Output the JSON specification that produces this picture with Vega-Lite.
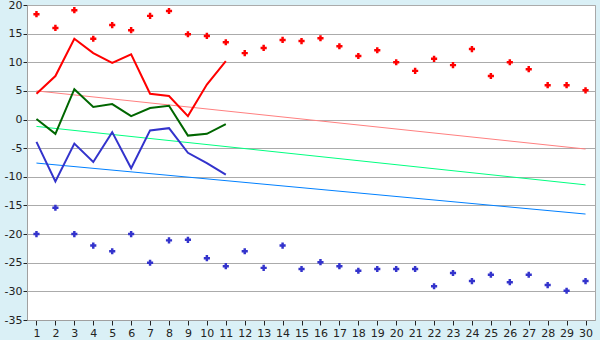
{
  "$schema": "https://vega.github.io/schema/vega-lite/v6.json",
  "width": 568,
  "height": 315,
  "autosize": {"type": "none"},
  "padding": {"left": 27, "top": 5, "right": 5, "bottom": 20},
  "background": "#DAF0F6",
  "config": {
    "view": {"fill": "white", "stroke": "#A8A8A8", "strokeWidth": 1},
    "axis": {
      "labelFont": "DejaVu Sans",
      "labelFontSize": 11,
      "labelColor": "#222222",
      "domainColor": "#A0A0A0",
      "tickColor": "#222222",
      "labelPadding": 2
    }
  },
  "datasets": {
    "points": [
      {"day": 1, "series": "max", "value": 18.4},
      {"day": 2, "series": "max", "value": 16.0},
      {"day": 3, "series": "max", "value": 19.1},
      {"day": 4, "series": "max", "value": 14.1},
      {"day": 5, "series": "max", "value": 16.5},
      {"day": 6, "series": "max", "value": 15.6},
      {"day": 7, "series": "max", "value": 18.1},
      {"day": 8, "series": "max", "value": 18.95},
      {"day": 9, "series": "max", "value": 14.9},
      {"day": 10, "series": "max", "value": 14.6},
      {"day": 11, "series": "max", "value": 13.5},
      {"day": 12, "series": "max", "value": 11.6},
      {"day": 13, "series": "max", "value": 12.5},
      {"day": 14, "series": "max", "value": 13.9},
      {"day": 15, "series": "max", "value": 13.7},
      {"day": 16, "series": "max", "value": 14.2},
      {"day": 17, "series": "max", "value": 12.8},
      {"day": 18, "series": "max", "value": 11.1},
      {"day": 19, "series": "max", "value": 12.1},
      {"day": 20, "series": "max", "value": 10.0},
      {"day": 21, "series": "max", "value": 8.5},
      {"day": 22, "series": "max", "value": 10.6},
      {"day": 23, "series": "max", "value": 9.5},
      {"day": 24, "series": "max", "value": 12.3},
      {"day": 25, "series": "max", "value": 7.6},
      {"day": 26, "series": "max", "value": 10.0},
      {"day": 27, "series": "max", "value": 8.8},
      {"day": 28, "series": "max", "value": 6.0},
      {"day": 29, "series": "max", "value": 6.0},
      {"day": 30, "series": "max", "value": 5.1},
      {"day": 1, "series": "min", "value": -20.0},
      {"day": 2, "series": "min", "value": -15.4},
      {"day": 3, "series": "min", "value": -20.0},
      {"day": 4, "series": "min", "value": -22.0},
      {"day": 5, "series": "min", "value": -23.0},
      {"day": 6, "series": "min", "value": -20.0},
      {"day": 7, "series": "min", "value": -25.0},
      {"day": 8, "series": "min", "value": -21.1},
      {"day": 9, "series": "min", "value": -21.0},
      {"day": 10, "series": "min", "value": -24.2},
      {"day": 11, "series": "min", "value": -25.6},
      {"day": 12, "series": "min", "value": -23.0},
      {"day": 13, "series": "min", "value": -25.9},
      {"day": 14, "series": "min", "value": -22.0},
      {"day": 15, "series": "min", "value": -26.1},
      {"day": 16, "series": "min", "value": -24.9},
      {"day": 17, "series": "min", "value": -25.6},
      {"day": 18, "series": "min", "value": -26.4},
      {"day": 19, "series": "min", "value": -26.1},
      {"day": 20, "series": "min", "value": -26.1},
      {"day": 21, "series": "min", "value": -26.1},
      {"day": 22, "series": "min", "value": -29.1},
      {"day": 23, "series": "min", "value": -26.8},
      {"day": 24, "series": "min", "value": -28.2},
      {"day": 25, "series": "min", "value": -27.1},
      {"day": 26, "series": "min", "value": -28.4},
      {"day": 27, "series": "min", "value": -27.1},
      {"day": 28, "series": "min", "value": -28.9},
      {"day": 29, "series": "min", "value": -29.9},
      {"day": 30, "series": "min", "value": -28.2}
    ],
    "lines": [
      {"day": 1, "series": "high", "value": 4.5},
      {"day": 2, "series": "high", "value": 7.6},
      {"day": 3, "series": "high", "value": 14.1},
      {"day": 4, "series": "high", "value": 11.6},
      {"day": 5, "series": "high", "value": 9.9},
      {"day": 6, "series": "high", "value": 11.4},
      {"day": 7, "series": "high", "value": 4.5},
      {"day": 8, "series": "high", "value": 4.1},
      {"day": 9, "series": "high", "value": 0.6},
      {"day": 10, "series": "high", "value": 6.1},
      {"day": 11, "series": "high", "value": 10.2},
      {"day": 1, "series": "mean", "value": 0.1},
      {"day": 2, "series": "mean", "value": -2.5},
      {"day": 3, "series": "mean", "value": 5.3},
      {"day": 4, "series": "mean", "value": 2.2},
      {"day": 5, "series": "mean", "value": 2.7},
      {"day": 6, "series": "mean", "value": 0.6},
      {"day": 7, "series": "mean", "value": 2.0},
      {"day": 8, "series": "mean", "value": 2.4},
      {"day": 9, "series": "mean", "value": -2.8},
      {"day": 10, "series": "mean", "value": -2.5},
      {"day": 11, "series": "mean", "value": -0.8},
      {"day": 1, "series": "low", "value": -3.9},
      {"day": 2, "series": "low", "value": -10.8},
      {"day": 3, "series": "low", "value": -4.2},
      {"day": 4, "series": "low", "value": -7.4},
      {"day": 5, "series": "low", "value": -2.2},
      {"day": 6, "series": "low", "value": -8.5},
      {"day": 7, "series": "low", "value": -1.9},
      {"day": 8, "series": "low", "value": -1.5},
      {"day": 9, "series": "low", "value": -5.8},
      {"day": 10, "series": "low", "value": -7.6},
      {"day": 11, "series": "low", "value": -9.6}
    ],
    "trends": [
      {"day": 1, "series": "high trend", "value": 5.0},
      {"day": 30, "series": "high trend", "value": -5.15},
      {"day": 1, "series": "mean trend", "value": -1.2},
      {"day": 30, "series": "mean trend", "value": -11.4},
      {"day": 1, "series": "low trend", "value": -7.6},
      {"day": 30, "series": "low trend", "value": -16.5}
    ]
  },
  "encoding": {
    "x": {
      "field": "day",
      "type": "quantitative",
      "scale": {"domain": [0.5, 30.5], "nice": false, "zero": false},
      "axis": {
        "title": null,
        "values": [1,2,3,4,5,6,7,8,9,10,11,12,13,14,15,16,17,18,19,20,21,22,23,24,25,26,27,28,29,30],
        "grid": false,
        "tickSize": 5,
        "labelFlush": false,
        "labelOverlap": false
      }
    },
    "y": {
      "field": "value",
      "type": "quantitative",
      "scale": {"domain": [-35, 20], "nice": false, "zero": false},
      "axis": {
        "title": null,
        "values": [-35,-30,-25,-20,-15,-10,-5,0,5,10,15,20],
        "labelExpr": "toString(datum.value)",
        "grid": true,
        "gridColor": "#ABABAB",
        "tickSize": 4,
        "labelPadding": 1,
        "labelFlush": false,
        "labelOverlap": false
      }
    }
  },
  "layer": [
    {
      "data": {"name": "trends"},
      "mark": {"type": "line", "strokeWidth": 1},
      "encoding": {
        "color": {
          "field": "series",
          "type": "nominal",
          "scale": {
            "domain": ["high trend", "mean trend", "low trend", "high", "mean", "low", "max", "min"],
            "range": ["#FF8080", "#00FF80", "#0080FF", "#FF0000", "#006600", "#3333CC", "#FF0000", "#3333CC"]
          },
          "legend": null
        }
      }
    },
    {
      "data": {"name": "lines"},
      "mark": {"type": "line", "strokeWidth": 2},
      "encoding": {
        "color": {"field": "series", "type": "nominal", "legend": null}
      }
    },
    {
      "data": {"name": "points"},
      "mark": {"type": "point", "shape": "cross", "filled": true, "size": 38, "opacity": 1},
      "encoding": {
        "color": {"field": "series", "type": "nominal", "legend": null}
      }
    }
  ]
}
